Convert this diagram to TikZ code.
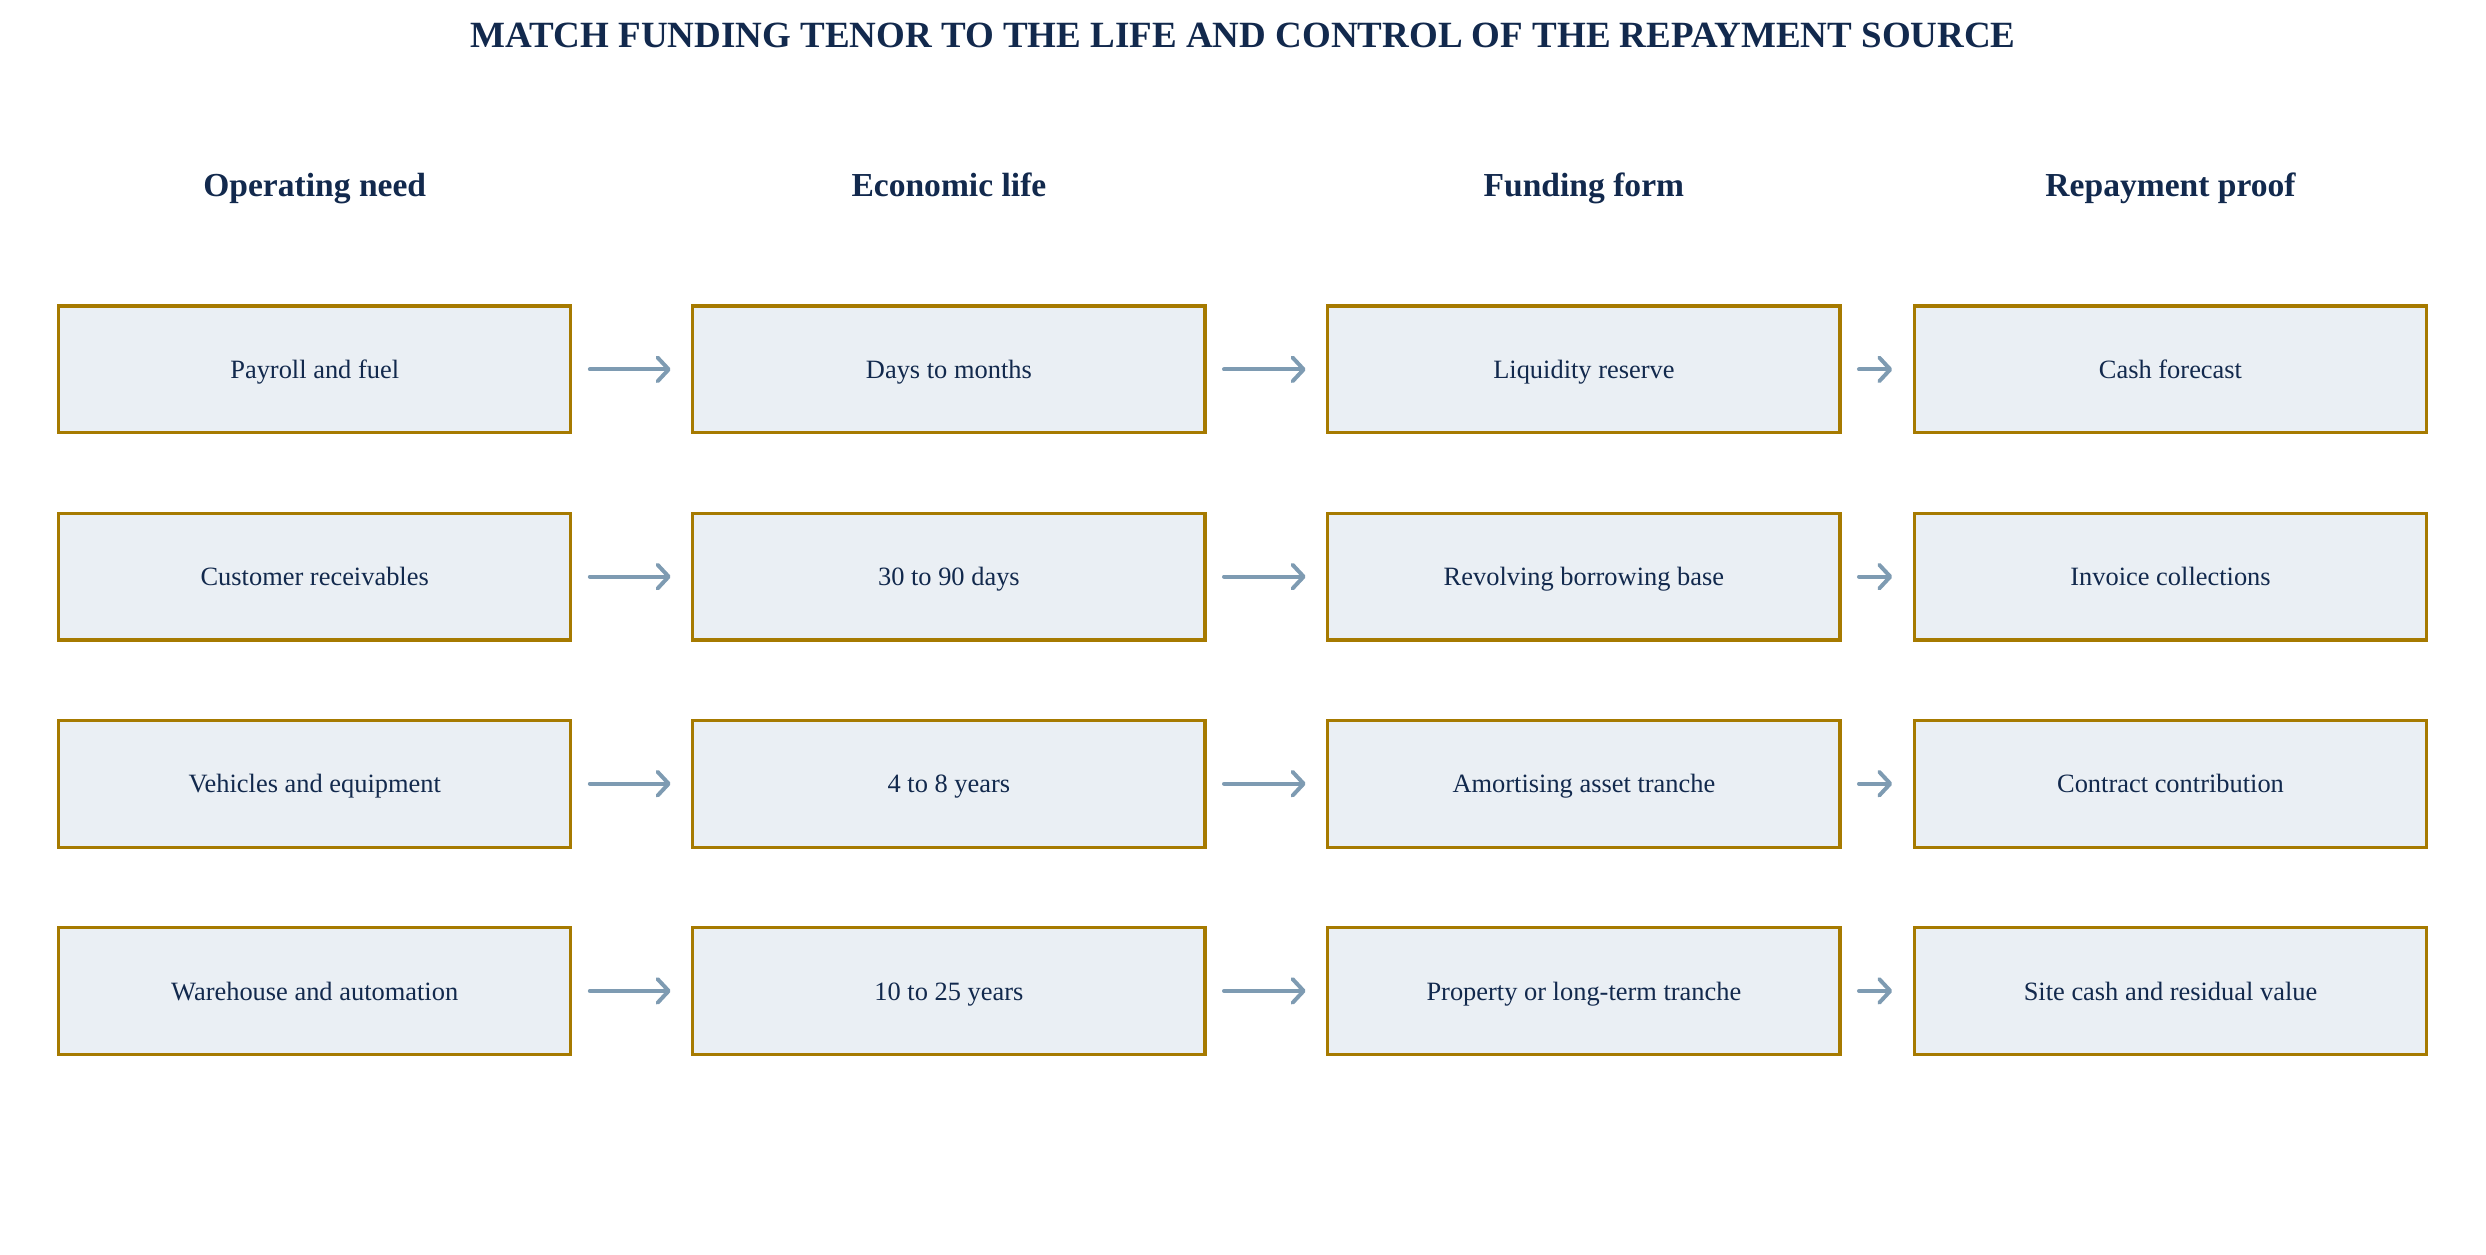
\documentclass[tikz,border=0pt]{standalone}
\usepackage{fontspec}
\setmainfont{Liberation Serif}
\usetikzlibrary{arrows.meta}
\definecolor{inkblue}{RGB}{18,41,77}
\definecolor{boxedge}{RGB}{166,122,0}
\definecolor{boxfill}{RGB}{234,239,244}
\definecolor{flowgrey}{RGB}{126,155,178}
\tikzset{every picture/.style={line width=0.75pt}}

\begin{document}
\begin{tikzpicture}[x=0.6pt,y=0.6pt,yscale=-1,xscale=1,
  stagebox/.style={draw=boxedge, fill=boxfill, line width=1.2pt, minimum width=193.8pt, minimum height=48pt, inner sep=0pt, text height=0.8em, text depth=0.1em, font=\fontsize{10}{12}\selectfont, text=inkblue},
  colhead/.style={inner sep=0.75pt, text height=0.68em, text depth=0.22em, font=\fontsize{12.7}{15}\selectfont\bfseries, text=inkblue},
  flow/.style={draw=flowgrey, line width=1.5pt, -{Straight Barb[length=4.2pt,width=9pt,round]}, line cap=round, shorten <=6.6pt, shorten >=7.8pt}]
%set diagram size: 1568 x 791
\useasboundingbox (0,0) rectangle (1568,791);

% Text Node
\node (title) at (784,26) [inner sep=0.75pt, text height=0.68em, text depth=0.22em, font=\fontsize{14}{17}\selectfont\bfseries, text=inkblue] {MATCH FUNDING TENOR TO THE LIFE AND CONTROL OF THE REPAYMENT SOURCE};

% Text Node
\node (hneed) at (198.5,120) [colhead] {Operating need};
% Text Node
\node (hlife) at (598.5,120) [colhead] {Economic life};
% Text Node
\node (hform) at (999,120) [colhead] {Funding form};
% Text Node
\node (hproof) at (1369,120) [colhead] {Repayment proof};

%Shape: Rectangle row 1
\node (need1) at (198.5,233) [stagebox] {Payroll and fuel};
\node (life1) at (598.5,233) [stagebox] {Days to months};
\node (form1) at (999,233) [stagebox] {Liquidity reserve};
\node (proof1) at (1369,233) [stagebox] {Cash forecast};
%Shape: Rectangle row 2
\node (need2) at (198.5,363.7) [stagebox] {Customer receivables};
\node (life2) at (598.5,363.7) [stagebox] {30 to 90 days};
\node (form2) at (999,363.7) [stagebox] {Revolving borrowing base};
\node (proof2) at (1369,363.7) [stagebox] {Invoice collections};
%Shape: Rectangle row 3
\node (need3) at (198.5,494.3) [stagebox] {Vehicles and equipment};
\node (life3) at (598.5,494.3) [stagebox] {4 to 8 years};
\node (form3) at (999,494.3) [stagebox] {Amortising asset tranche};
\node (proof3) at (1369,494.3) [stagebox] {Contract contribution};
%Shape: Rectangle row 4
\node (need4) at (198.5,625) [stagebox] {Warehouse and automation};
\node (life4) at (598.5,625) [stagebox] {10 to 25 years};
\node (form4) at (999,625) [stagebox] {Property or long-term tranche};
\node (proof4) at (1369,625) [stagebox] {Site cash and residual value};

%Straight Lines
\draw [flow] (need1) -- (life1);
\draw [flow] (life1) -- (form1);
\draw [flow] (form1) -- (proof1);
\draw [flow] (need2) -- (life2);
\draw [flow] (life2) -- (form2);
\draw [flow] (form2) -- (proof2);
\draw [flow] (need3) -- (life3);
\draw [flow] (life3) -- (form3);
\draw [flow] (form3) -- (proof3);
\draw [flow] (need4) -- (life4);
\draw [flow] (life4) -- (form4);
\draw [flow] (form4) -- (proof4);

\end{tikzpicture}
\end{document}
